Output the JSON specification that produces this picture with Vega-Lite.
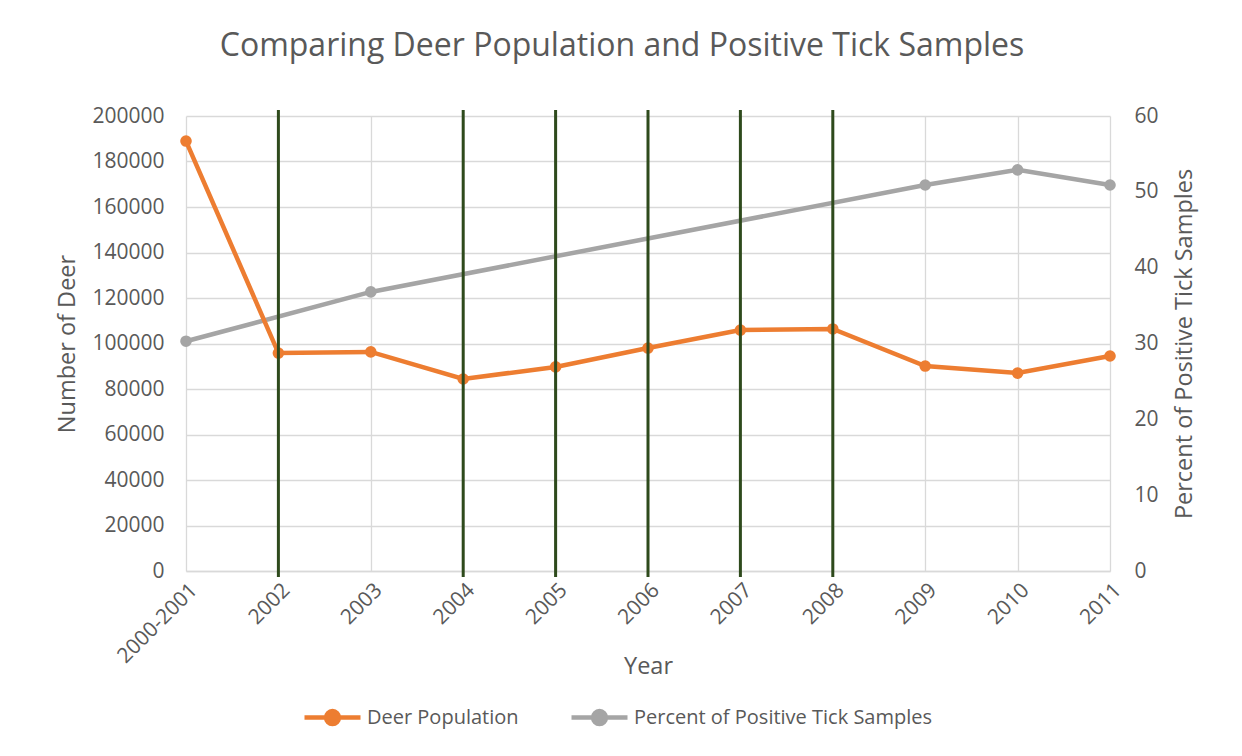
{
  "$schema": "https://vega.github.io/schema/vega-lite/v6.json",
  "width": 924,
  "height": 455,
  "autosize": {"type": "none"},
  "padding": {"left": 186, "top": 116, "right": 132, "bottom": 185},
  "background": "white",
  "title": {
    "text": "Comparing Deer Population and Positive Tick Samples",
    "font": "Open Sans",
    "fontSize": 32,
    "fontWeight": "normal",
    "color": "#595959",
    "anchor": "middle",
    "dx": -26,
    "offset": 42
  },
  "config": {
    "view": {"stroke": null},
    "font": "Open Sans",
    "axis": {
      "labelFont": "Open Sans",
      "labelFontSize": 21,
      "labelColor": "#595959",
      "titleFont": "Open Sans",
      "titleFontSize": 23.5,
      "titleFontWeight": "normal",
      "titleColor": "#595959",
      "ticks": false,
      "domain": false,
      "gridColor": "#d9d9d9",
      "gridWidth": 1.3
    },
    "legend": {
      "labelFont": "Open Sans",
      "labelFontSize": 20,
      "labelColor": "#595959",
      "labelLimit": 500
    }
  },
  "data": {
    "values": [
      {"year": "2000-2001", "deer": 189000, "tick": 30.3},
      {"year": "2002", "deer": 95800, "tick": null},
      {"year": "2003", "deer": 96300, "tick": 36.8},
      {"year": "2004", "deer": 84400, "tick": null},
      {"year": "2005", "deer": 89700, "tick": null},
      {"year": "2006", "deer": 98000, "tick": null},
      {"year": "2007", "deer": 105900, "tick": null},
      {"year": "2008", "deer": 106400, "tick": null},
      {"year": "2009", "deer": 90100, "tick": 50.9},
      {"year": "2010", "deer": 87000, "tick": 52.9},
      {"year": "2011", "deer": 94500, "tick": 50.9}
    ]
  },
  "encoding": {
    "x": {
      "field": "year",
      "type": "ordinal",
      "scale": {
        "type": "point",
        "padding": 0,
        "domain": ["2000-2001", "2002", "2003", "2004", "2005", "2006", "2007", "2008", "2009", "2010", "2011"]
      },
      "title": "Year",
      "axis": {
        "labelAngle": -45,
        "labelPadding": 8,
        "grid": true,
        "domain": true,
        "domainColor": "#d9d9d9",
        "domainWidth": 1.3,
        "titlePadding": -12
      }
    }
  },
  "layer": [
    {
      "transform": [{"filter": "datum.tick != null"}],
      "mark": {
        "type": "line",
        "strokeWidth": 4.5,
        "point": {"filled": true, "size": 135}
      },
      "encoding": {
        "y": {
          "field": "tick",
          "type": "quantitative",
          "scale": {"domain": [0, 60], "nice": false},
          "title": "Percent of Positive Tick Samples",
          "axis": {
            "orient": "right",
            "values": [0, 10, 20, 30, 40, 50, 60],
            "grid": false,
            "labelPadding": 24,
            "titlePadding": 14,
            "titleAngle": -90,
            "titleBaseline": "top"
          }
        },
        "color": {
          "datum": "Percent of Positive Tick Samples",
          "scale": {
            "domain": ["Deer Population", "Percent of Positive Tick Samples"],
            "range": ["#ED7D31", "#A5A5A5"]
          },
          "legend": {
            "orient": "none",
            "legendX": 116,
            "legendY": 571,
            "direction": "horizontal",
            "title": null,
            "symbolType": "M-1,0L1,0M-0.23,0A0.23,0.23,0,1,1,0.23,0A0.23,0.23,0,1,1,-0.23,0Z",
            "symbolSize": 3136,
            "symbolStrokeWidth": 4.5,
            "labelOffset": 4,
            "columnPadding": 43,
            "encode": {
              "symbols": {
                "update": {
                  "stroke": {"scale": "color", "field": "value"},
                  "fill": {"scale": "color", "field": "value"},
                  "strokeWidth": {"value": 4.5},
                  "opacity": {"value": 1}
                }
              }
            }
          }
        }
      }
    },
    {
      "mark": {
        "type": "line",
        "strokeWidth": 4.5,
        "point": {"filled": true, "size": 135}
      },
      "encoding": {
        "y": {
          "field": "deer",
          "type": "quantitative",
          "scale": {"domain": [0, 200000], "nice": false},
          "title": "Number of Deer",
          "axis": {
            "orient": "left",
            "values": [0, 20000, 40000, 60000, 80000, 100000, 120000, 140000, 160000, 180000, 200000],
            "format": "d",
            "grid": true,
            "labelPadding": 22,
            "titlePadding": 12
          }
        },
        "color": {"datum": "Deer Population"}
      }
    },
    {
      "transform": [{"filter": {"field": "year", "oneOf": ["2002", "2004", "2005", "2006", "2007", "2008"]}}],
      "mark": {"type": "rule", "color": "#2E4A1C", "strokeWidth": 3, "clip": false},
      "encoding": {
        "y": {"datum": 202600, "type": "quantitative", "scale": {"domain": [0, 200000], "nice": false}, "axis": null},
        "y2": {"datum": -2600}
      }
    }
  ],
  "resolve": {"scale": {"y": "independent"}}
}
